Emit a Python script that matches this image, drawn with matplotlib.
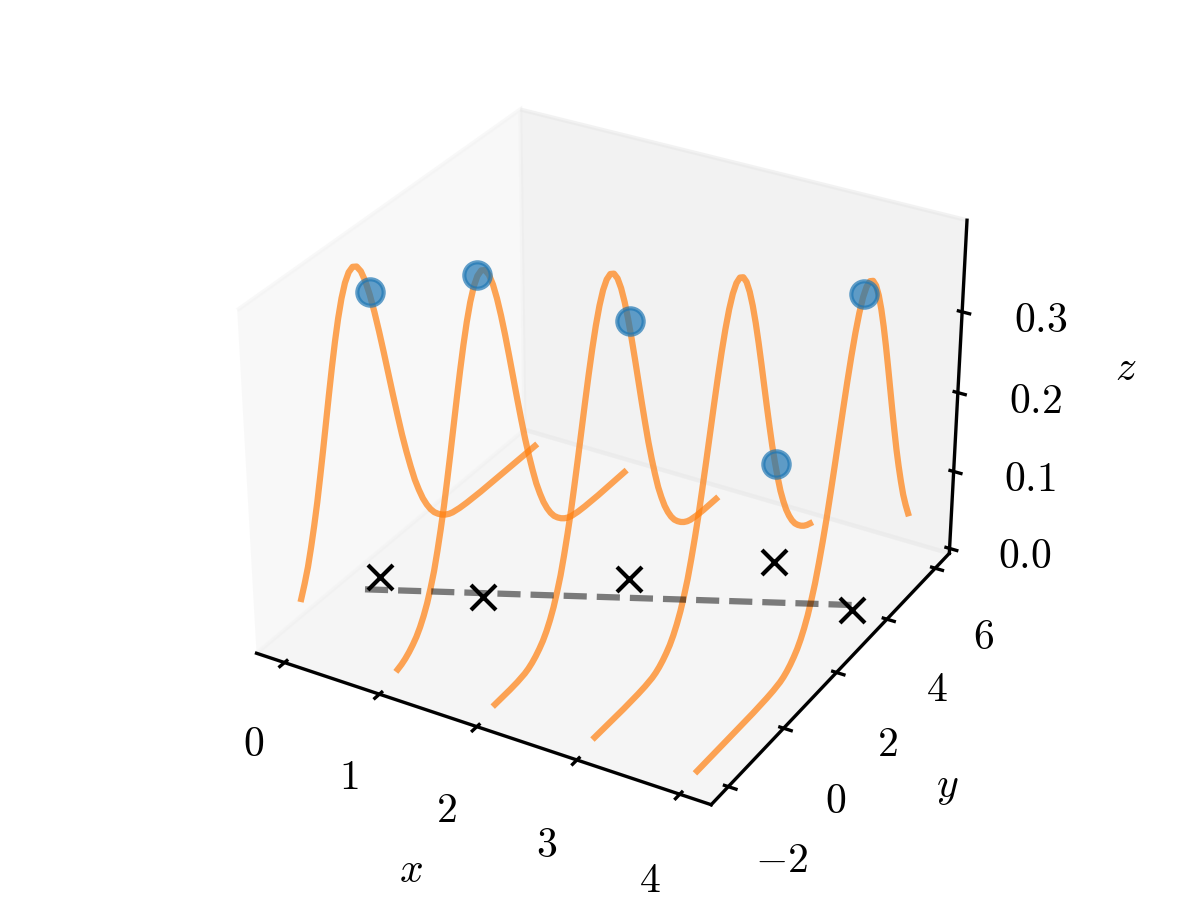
"""Regression with Gaussian noise slices, drawn in 3D."""

import matplotlib
matplotlib.use('Agg')
import matplotlib.pyplot as plt

plt.rcParams['mathtext.fontset'] = 'cm'
plt.rcParams['font.family'] = 'cmr10'
plt.rcParams['axes.unicode_minus'] = False

xs = [0, 1, 2, 3, 4]
centers = [0.0, 1.0, 2.0, 3.0, 4.0]
y_start = -2.0
y_end = 6.0

# bell shape, as distance from the centre and height
bell_offset = [-6.0, -5.0, -4.0, -3.5, -3.25, -3.0, -2.875, -2.75, -2.625, -2.5, -2.375, -2.25, -2.125, -2.0,
               -1.875, -1.75, -1.625, -1.5, -1.375, -1.25, -1.125, -1.0, -0.875, -0.75, -0.625, -0.5, -0.375,
               -0.25, -0.125, 0.0, 0.125, 0.25, 0.375, 0.5, 0.625, 0.75, 0.875, 1.0, 1.125, 1.25, 1.375, 1.5,
               1.625, 1.75, 1.875, 2.0, 2.125, 2.25, 2.375, 2.5, 2.625, 2.75, 2.875, 3.0, 3.25, 3.5, 4.0, 5.0, 6.0]
bell_height = [0.0, 0.0, 0.0001, 0.001, 0.002, 0.004, 0.006, 0.009, 0.013, 0.018, 0.024, 0.032, 0.042, 0.054,
               0.069, 0.086, 0.107, 0.130, 0.155, 0.183, 0.212, 0.242, 0.272, 0.301, 0.328, 0.352, 0.372,
               0.387, 0.396, 0.399, 0.396, 0.387, 0.372, 0.352, 0.328, 0.301, 0.272, 0.242, 0.212, 0.183, 0.155, 0.130,
               0.107, 0.086, 0.069, 0.054, 0.042, 0.032, 0.024, 0.018, 0.013, 0.009, 0.006, 0.004, 0.002, 0.001, 0.0001, 0.0, 0.0]

point_y = [0.5, 0.85, 2.7, 4.55, 3.8]
point_z = [0.355, 0.398, 0.324, 0.127, 0.389]

xticks = [0, 1, 2, 3, 4]
yticks = [-2, 0, 2, 4, 6]
zticks = [0.0, 0.1, 0.2, 0.3]

fig = plt.figure(figsize=(4, 3.0033), dpi=300)
ax = fig.add_axes([0.1133, 0.1178, 0.775, 0.77], projection='3d')
ax.set_box_aspect(None, zoom=1.165)

for x, c in zip(xs, centers):
    pairs = [(c + o, h) for o, h in zip(bell_offset, bell_height) if y_start <= c + o <= y_end]
    ax.plot([x] * len(pairs), [p[0] for p in pairs], [p[1] for p in pairs], color='C1', alpha=0.7, lw=1.5)

ax.plot(xs, centers, [0] * 5, color='k', alpha=0.5, ls='--', lw=1.5)
ax.scatter(xs, point_y, point_z, color='C0', s=40, alpha=0.7, depthshade=False)
ax.scatter(xs, point_y, [0] * 5, color='k', marker='x', s=36, linewidths=1, depthshade=False)

ax.grid(False)
ax.set_xlim(-0.3, 4.3)
ax.set_ylim(-2.6, 6.6)
ax.set_zlim(-0.0065, 0.4105)
ax.set_xticks(xticks)
ax.set_yticks(yticks)
ax.set_zticks(zticks)
ax.set_xticklabels(['$%d$' % t for t in xticks], fontsize=10)
ax.set_yticklabels(['$%d$' % t if t >= 0 else '$-%d$' % -t for t in yticks], fontsize=10)
ax.set_zticklabels(['$%.1f$' % t for t in zticks], fontsize=10)
ax.tick_params(axis='x', pad=1.5)
ax.tick_params(axis='y', pad=1.7)
ax.tick_params(axis='z', pad=1.9)
ax.set_xlabel('$x$', fontsize=10, labelpad=-0.3)
ax.set_ylabel('$y$', fontsize=10, labelpad=0.1)
ax.set_zlabel('$z$', fontsize=10, labelpad=0.6)

fig.savefig('out.png')
